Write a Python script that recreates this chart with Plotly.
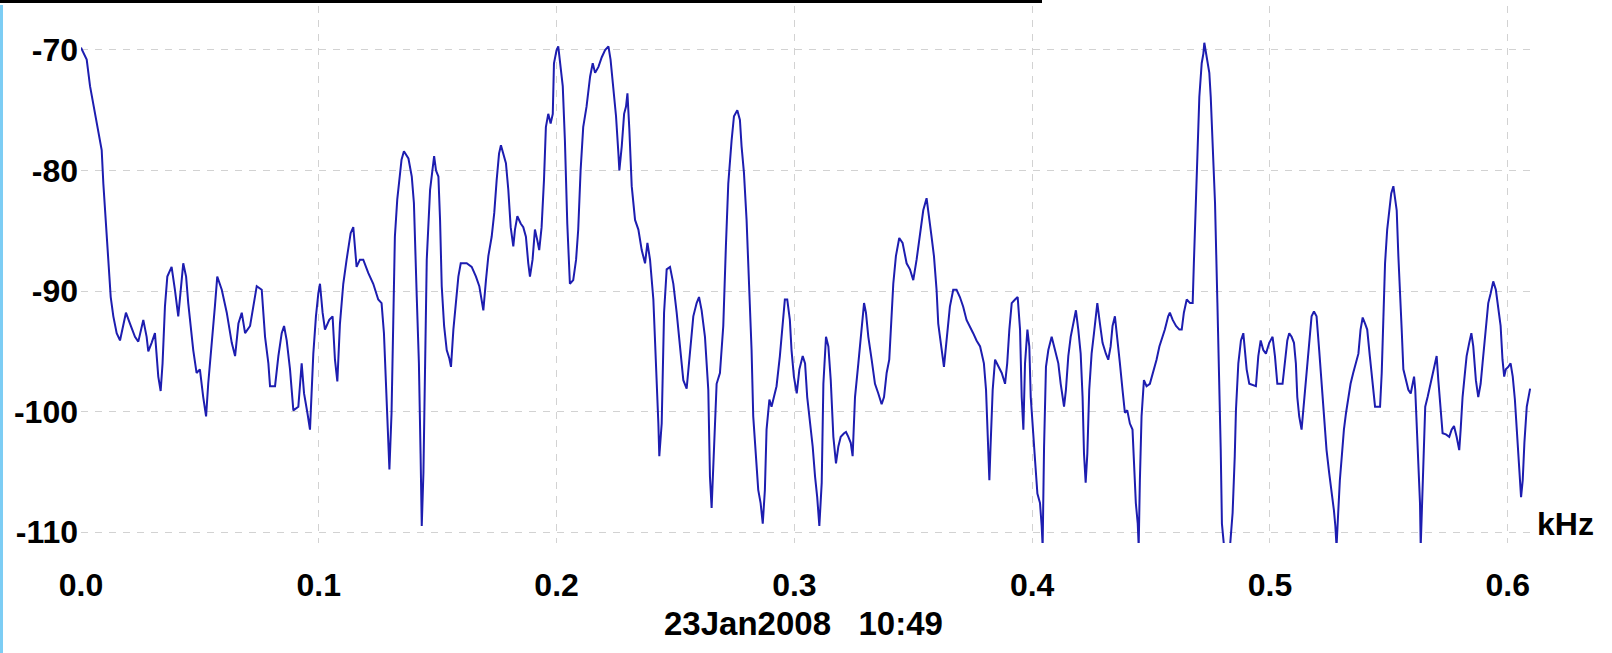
import plotly.graph_objects as go

# Spectrum trace: frequency (kHz) and level (dB)
freq_khz = [
    0.0000, 0.0024, 0.0038, 0.0059, 0.0073, 0.0087, 0.0094, 0.0105, 0.0115, 0.0125,
    0.0136, 0.0150, 0.0164, 0.0178, 0.0189, 0.0206, 0.0227, 0.0241, 0.0262, 0.0276,
    0.0283, 0.0297, 0.0311, 0.0325, 0.0335, 0.0343, 0.0353, 0.0363, 0.0381, 0.0395,
    0.0409, 0.0430, 0.0442, 0.0451, 0.0472, 0.0486, 0.0500, 0.0514, 0.0526, 0.0535,
    0.0549, 0.0563, 0.0573, 0.0592, 0.0613, 0.0634, 0.0648, 0.0662, 0.0676, 0.0690,
    0.0711, 0.0725, 0.0739, 0.0760, 0.0774, 0.0788, 0.0795, 0.0816, 0.0830, 0.0844,
    0.0854, 0.0865, 0.0879, 0.0893, 0.0914, 0.0928, 0.0938, 0.0952, 0.0963, 0.0977,
    0.0988, 0.0998, 0.1005, 0.1016, 0.1026, 0.1044, 0.1058, 0.1068, 0.1078, 0.1089,
    0.1103, 0.1117, 0.1134, 0.1145, 0.1159, 0.1173, 0.1187, 0.1208, 0.1229, 0.1250,
    0.1264, 0.1274, 0.1283, 0.1288, 0.1297, 0.1306, 0.1313, 0.1320, 0.1330, 0.1341,
    0.1348, 0.1358, 0.1377, 0.1391, 0.1400, 0.1412, 0.1421, 0.1428, 0.1433, 0.1440,
    0.1447, 0.1454, 0.1468, 0.1478, 0.1485, 0.1493, 0.1503, 0.1510, 0.1517, 0.1527,
    0.1538, 0.1549, 0.1556, 0.1566, 0.1577, 0.1587, 0.1597, 0.1622, 0.1643, 0.1661,
    0.1675, 0.1685, 0.1692, 0.1703, 0.1713, 0.1727, 0.1738, 0.1748, 0.1758, 0.1766,
    0.1776, 0.1787, 0.1797, 0.1807, 0.1818, 0.1825, 0.1835, 0.1849, 0.1860, 0.1871,
    0.1881, 0.1888, 0.1899, 0.1909, 0.1919, 0.1927, 0.1937, 0.1947, 0.1955, 0.1965,
    0.1975, 0.1984, 0.1989, 0.2000, 0.2007, 0.2014, 0.2026, 0.2035, 0.2045, 0.2056,
    0.2070, 0.2082, 0.2091, 0.2101, 0.2112, 0.2126, 0.2141, 0.2152, 0.2162, 0.2176,
    0.2190, 0.2204, 0.2218, 0.2227, 0.2239, 0.2250, 0.2260, 0.2264, 0.2274, 0.2284,
    0.2292, 0.2298, 0.2306, 0.2316, 0.2330, 0.2344, 0.2358, 0.2372, 0.2382, 0.2393,
    0.2407, 0.2418, 0.2428, 0.2432, 0.2442, 0.2452, 0.2463, 0.2477, 0.2491, 0.2505,
    0.2519, 0.2533, 0.2547, 0.2561, 0.2575, 0.2589, 0.2599, 0.2610, 0.2624, 0.2638,
    0.2645, 0.2652, 0.2659, 0.2666, 0.2673, 0.2687, 0.2701, 0.2712, 0.2722, 0.2736,
    0.2746, 0.2760, 0.2771, 0.2778, 0.2788, 0.2799, 0.2810, 0.2820, 0.2827, 0.2839,
    0.2848, 0.2858, 0.2867, 0.2876, 0.2883, 0.2895, 0.2904, 0.2914, 0.2925, 0.2939,
    0.2951, 0.2960, 0.2970, 0.2981, 0.2988, 0.2998, 0.3010, 0.3021, 0.3035, 0.3045,
    0.3054, 0.3066, 0.3077, 0.3087, 0.3096, 0.3105, 0.3115, 0.3122, 0.3133, 0.3143,
    0.3153, 0.3164, 0.3175, 0.3185, 0.3195, 0.3209, 0.3217, 0.3227, 0.3237, 0.3245,
    0.3255, 0.3269, 0.3283, 0.3293, 0.3301, 0.3311, 0.3325, 0.3339, 0.3353, 0.3367,
    0.3377, 0.3388, 0.3399, 0.3409, 0.3416, 0.3427, 0.3441, 0.3455, 0.3472, 0.3486,
    0.3500, 0.3514, 0.3528, 0.3542, 0.3556, 0.3567, 0.3577, 0.3587, 0.3598, 0.3605,
    0.3615, 0.3629, 0.3640, 0.3654, 0.3668, 0.3682, 0.3696, 0.3710, 0.3724, 0.3738,
    0.3752, 0.3766, 0.3781, 0.3788, 0.3797, 0.3806, 0.3813, 0.3820, 0.3825, 0.3834,
    0.3844, 0.3858, 0.3872, 0.3886, 0.3895, 0.3904, 0.3914, 0.3928, 0.3939, 0.3949,
    0.3956, 0.3963, 0.3970, 0.3980, 0.3988, 0.3994, 0.4005, 0.4012, 0.4022, 0.4033,
    0.4040, 0.4044, 0.4050, 0.4058, 0.4068, 0.4082, 0.4096, 0.4110, 0.4120, 0.4128,
    0.4134, 0.4142, 0.4152, 0.4162, 0.4173, 0.4184, 0.4194, 0.4204, 0.4212, 0.4218,
    0.4225, 0.4232, 0.4240, 0.4250, 0.4260, 0.4274, 0.4285, 0.4296, 0.4310, 0.4320,
    0.4330, 0.4338, 0.4348, 0.4358, 0.4369, 0.4380, 0.4390, 0.4400, 0.4411, 0.4422,
    0.4429, 0.4436, 0.4444, 0.4448, 0.4453, 0.4460, 0.4470, 0.4481, 0.4495, 0.4509,
    0.4523, 0.4535, 0.4544, 0.4558, 0.4572, 0.4579, 0.4591, 0.4605, 0.4619, 0.4629,
    0.4638, 0.4650, 0.4664, 0.4675, 0.4680, 0.4686, 0.4692, 0.4703, 0.4713, 0.4720,
    0.4724, 0.4731, 0.4738, 0.4745, 0.4751, 0.4759, 0.4769, 0.4779, 0.4787, 0.4793,
    0.4798, 0.4807, 0.4832, 0.4843, 0.4852, 0.4857, 0.4867, 0.4878, 0.4888, 0.4895,
    0.4902, 0.4913, 0.4927, 0.4941, 0.4951, 0.4961, 0.4972, 0.4983, 0.4997, 0.5011,
    0.5021, 0.5031, 0.5053, 0.5063, 0.5073, 0.5081, 0.5091, 0.5101, 0.5109, 0.5115,
    0.5123, 0.5133, 0.5143, 0.5154, 0.5165, 0.5175, 0.5185, 0.5196, 0.5207, 0.5217,
    0.5227, 0.5238, 0.5249, 0.5259, 0.5269, 0.5275, 0.5280, 0.5287, 0.5294, 0.5303,
    0.5311, 0.5320, 0.5329, 0.5339, 0.5350, 0.5362, 0.5372, 0.5381, 0.5390, 0.5400,
    0.5409, 0.5420, 0.5432, 0.5442, 0.5451, 0.5463, 0.5470, 0.5477, 0.5484, 0.5493,
    0.5502, 0.5510, 0.5519, 0.5526, 0.5533, 0.5540, 0.5547, 0.5554, 0.5561, 0.5572,
    0.5582, 0.5592, 0.5600, 0.5606, 0.5611, 0.5617, 0.5624, 0.5631, 0.5634, 0.5639,
    0.5645, 0.5653, 0.5663, 0.5673, 0.5684, 0.5694, 0.5701, 0.5708, 0.5718, 0.5726,
    0.5740, 0.5754, 0.5764, 0.5774, 0.5785, 0.5796, 0.5802, 0.5810, 0.5820, 0.5827,
    0.5838, 0.5847, 0.5855, 0.5866, 0.5876, 0.5886, 0.5894, 0.5901, 0.5908, 0.5918,
    0.5928, 0.5939, 0.5950, 0.5960, 0.5970, 0.5978, 0.5985, 0.5992, 0.6002, 0.6012,
    0.6021, 0.6030, 0.6040, 0.6049, 0.6056, 0.6063, 0.6070, 0.6080, 0.6088, 0.6094,
]

level_db = [
    -69.8, -70.8, -73.0, -75.3, -76.9, -78.3, -81.1, -84.4, -88.2, -90.5,
    -92.1, -93.5, -94.1, -92.7, -91.8, -92.7, -93.8, -94.2, -92.4, -93.8,
    -95.0, -94.3, -93.5, -97.1, -98.3, -96.0, -91.3, -88.8, -88.0, -89.9,
    -92.1, -87.7, -88.8, -91.0, -94.9, -96.8, -96.5, -98.8, -100.4, -97.7,
    -94.1, -91.3, -88.8, -89.9, -91.8, -94.3, -95.4, -92.7, -91.8, -93.5,
    -92.9, -91.3, -89.6, -89.9, -93.8, -96.0, -97.9, -97.9, -95.4, -93.5,
    -92.9, -94.1, -96.5, -99.9, -99.6, -96.0, -98.5, -100.1, -101.5, -95.2,
    -92.1, -90.2, -89.4, -91.8, -93.2, -92.4, -92.1, -95.7, -97.5, -92.7,
    -89.4, -87.4, -85.2, -84.7, -88.0, -87.4, -87.4, -88.5, -89.4, -90.7,
    -91.0, -93.5, -98.2, -101.5, -104.8, -100.1, -91.3, -85.5, -82.4, -80.2,
    -79.1, -78.4, -79.0, -80.5, -82.7, -90.5, -96.0, -103.5, -109.5, -105.1,
    -96.3, -87.4, -81.6, -79.7, -78.8, -80.0, -80.5, -84.1, -89.6, -92.9,
    -94.9, -95.6, -96.3, -93.2, -90.7, -88.8, -87.7, -87.7, -88.0, -88.8,
    -89.6, -90.7, -91.6, -89.1, -87.1, -85.5, -83.5, -80.8, -78.6, -77.9,
    -78.6, -79.4, -81.6, -84.7, -86.3, -84.9, -83.8, -84.4, -84.7, -85.5,
    -87.7, -88.8, -87.4, -84.9, -85.8, -86.6, -84.7, -80.8, -76.4, -75.3,
    -76.1, -75.3, -71.1, -70.0, -69.7, -70.8, -73.0, -77.5, -84.4, -89.4,
    -89.1, -87.4, -84.9, -80.0, -76.4, -74.7, -72.2, -71.1, -71.9, -71.4,
    -70.6, -70.0, -69.7, -70.8, -73.0, -75.5, -78.6, -80.0, -78.0, -75.3,
    -74.7, -73.6, -76.6, -81.3, -84.1, -84.9, -86.6, -87.7, -86.0, -87.4,
    -90.7, -95.4, -101.0, -103.7, -101.0, -91.8, -88.2, -88.0, -89.4, -91.8,
    -94.6, -97.4, -98.1, -95.4, -92.1, -91.0, -90.5, -91.6, -93.8, -98.2,
    -105.4, -108.0, -104.3, -100.7, -97.7, -96.8, -92.9, -86.3, -81.1, -77.5,
    -75.5, -75.0, -75.8, -78.0, -80.2, -84.1, -89.4, -94.9, -100.4, -104.3,
    -106.5, -107.6, -109.3, -106.5, -101.5, -99.0, -99.6, -98.8, -97.9, -95.4,
    -92.7, -90.7, -90.7, -92.4, -94.9, -97.1, -98.5, -96.5, -95.4, -96.0,
    -98.8, -101.0, -102.9, -105.4, -107.1, -109.5, -105.9, -97.7, -93.8, -94.6,
    -97.4, -102.1, -104.3, -102.9, -102.1, -101.8, -101.7, -102.1, -102.6, -103.7,
    -98.8, -96.0, -92.7, -91.0, -91.8, -93.8, -95.7, -97.7, -98.5, -99.4,
    -98.8, -96.8, -95.7, -92.1, -89.4, -87.1, -85.6, -86.0, -87.7, -88.2,
    -89.1, -87.4, -85.2, -83.3, -82.3, -83.8, -85.5, -87.1, -89.9, -92.7,
    -94.1, -96.3, -94.1, -91.3, -89.9, -89.9, -90.5, -91.3, -92.4, -92.9,
    -93.5, -94.1, -94.6, -95.2, -96.0, -98.2, -102.9, -105.7, -102.9, -98.2,
    -95.7, -96.3, -96.8, -97.7, -96.0, -93.2, -91.0, -90.7, -90.5, -93.2,
    -98.8, -101.5, -96.0, -93.2, -94.6, -98.8, -101.5, -104.0, -106.8, -107.6,
    -109.5, -111.2, -103.0, -96.3, -94.9, -93.8, -94.9, -96.0, -97.7, -98.8,
    -99.6, -98.2, -95.4, -93.8, -92.7, -91.6, -93.2, -95.2, -98.8, -103.5,
    -105.9, -103.5, -98.2, -95.2, -93.5, -91.0, -92.7, -94.3, -95.2, -95.7,
    -94.6, -92.9, -92.1, -93.8, -96.0, -98.2, -100.1, -99.9, -101.0, -101.5,
    -105.1, -107.6, -109.3, -111.2, -105.7, -100.4, -97.4, -97.9, -97.7, -96.8,
    -95.7, -94.6, -94.1, -93.2, -92.1, -91.8, -92.4, -92.9, -93.2, -93.2,
    -91.8, -90.7, -91.0, -91.0, -87.7, -84.4, -79.4, -73.9, -71.1, -70.3,
    -69.4, -70.3, -71.1, -71.9, -73.9, -78.3, -82.7, -91.0, -97.4, -103.2,
    -109.3, -111.2, -111.2, -108.4, -103.7, -99.9, -96.0, -94.1, -93.5, -94.9,
    -96.5, -97.7, -97.8, -97.9, -95.4, -94.1, -94.9, -95.2, -94.3, -93.8,
    -95.4, -97.7, -97.7, -96.0, -94.1, -93.5, -93.8, -94.3, -96.0, -98.8,
    -100.4, -101.5, -99.3, -97.1, -94.9, -92.1, -91.7, -92.1, -94.9, -97.7,
    -100.4, -103.2, -105.1, -106.5, -108.2, -109.5, -111.2, -108.4, -105.7, -103.5,
    -101.5, -100.1, -98.8, -97.7, -96.8, -96.0, -95.2, -93.2, -92.2, -92.7,
    -93.2, -95.4, -97.7, -99.6, -99.6, -99.6, -96.8, -91.6, -87.7, -84.9,
    -83.3, -81.9, -81.3, -82.2, -83.3, -87.1, -91.0, -93.2, -96.5, -97.4,
    -98.2, -98.5, -97.7, -97.1, -98.2, -100.7, -104.0, -107.6, -111.2, -107.9,
    -102.9, -99.6, -98.8, -97.9, -97.1, -96.3, -95.4, -97.4, -100.1, -101.8,
    -101.9, -102.1, -101.5, -101.2, -102.1, -103.2, -101.5, -98.8, -96.8, -95.4,
    -94.3, -93.5, -94.6, -97.4, -98.8, -97.7, -96.0, -94.6, -92.9, -91.0,
    -90.2, -89.2, -89.9, -91.3, -92.9, -95.7, -97.1, -96.5, -96.3, -96.0,
    -97.1, -99.0, -101.8, -104.3, -107.1, -105.7, -102.6, -99.6, -98.5, -98.1,
]

# Axis ticks and labels
x_ticks = [0.0, 0.1, 0.2, 0.3, 0.4, 0.5, 0.6]
x_tick_text = ["0.0", "0.1", "0.2", "0.3", "0.4", "0.5", "0.6"]
y_ticks = [-70, -80, -90, -100, -110]
y_tick_text = ["-70", "-80", "-90", "-100", "-110"]

x_range = [0.0, 0.6102]
y_range = [-110.91, -66.35]

unit_label = "kHz"
date_stamp = "23Jan2008\u00a0\u00a0\u00a010:49"

# Page geometry (pixels)
W, H = 1612, 653
ML, MR, MT, MB = 81, 80, 6, 110
PW, PH = W - ML - MR, H - MT - MB


def px_x(px):
    return (px - ML) / PW


def px_y(py):
    return (H - MB - py) / PH


LABEL_FONT = dict(family="Liberation Sans, Arial, sans-serif", size=32,
                  color="black", weight="bold")
DATE_FONT = dict(LABEL_FONT, size=33)
GRID = dict(showgrid=True, gridcolor="#d2d2d2", gridwidth=1, griddash="7px,7px",
            zeroline=False, showline=False)

fig = go.Figure()
fig.add_trace(go.Scatter(
    x=freq_khz, y=level_db, mode="lines",
    line=dict(color="#1d1db0", width=2),
    hoverinfo="skip", showlegend=False,
))

fig.update_layout(
    width=W, height=H,
    margin=dict(l=ML, r=MR, t=MT, b=MB, pad=0),
    paper_bgcolor="white", plot_bgcolor="white",
    xaxis=dict(range=x_range, tickmode="array", tickvals=x_ticks, ticktext=x_tick_text,
               tickfont=LABEL_FONT, ticks="", ticklabelstandoff=20, **GRID),
    yaxis=dict(range=y_range, tickmode="array", tickvals=y_ticks, ticktext=y_tick_text,
               tickfont=LABEL_FONT, ticks="", ticklabelstandoff=2, **GRID),
    annotations=[
        dict(text=unit_label, xref="paper", yref="paper", x=px_x(1535), y=px_y(524),
             xanchor="left", yanchor="middle", showarrow=False, font=LABEL_FONT),
        dict(text=date_stamp, xref="paper", yref="paper", x=px_x(803), y=px_y(623),
             xanchor="center", yanchor="middle", showarrow=False, font=DATE_FONT),
    ],
    shapes=[
        # window frame edge along the top
        dict(type="rect", xref="paper", yref="paper", x0=px_x(0), x1=px_x(1042),
             y0=px_y(3), y1=px_y(0), fillcolor="black", line=dict(width=0), layer="above"),
        # light blue border on the left
        dict(type="rect", xref="paper", yref="paper", x0=px_x(0), x1=px_x(3),
             y0=px_y(H), y1=px_y(5), fillcolor="#7ccdf4", line=dict(width=0), layer="above"),
    ],
)

fig.write_html("out.html")
